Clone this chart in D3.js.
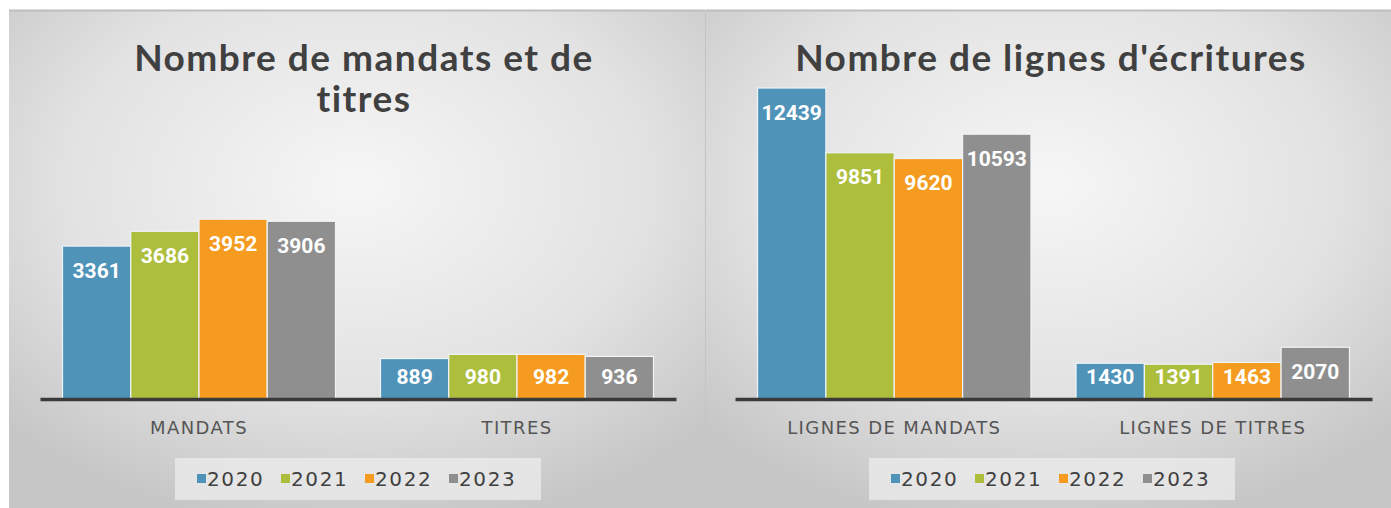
<!DOCTYPE html>
<html>
<head>
<meta charset="utf-8">
<script src="https://cdn.jsdelivr.net/npm/d3@7"></script>
<style>
  body { margin: 0; background: #fff; }
  svg { display: block; }
</style>
</head>
<body>
<div id="chart"></div>
<script>
// data
var years = ["2020", "2021", "2022", "2023"]
var colors = ["#4f93b9", "#adbe3c", "#f49b20", "#8f8f8f"]

var catsMandats = ["MANDATS", "TITRES"]
var valsMandats = [[3361, 3686, 3952, 3906], [889, 980, 982, 936]]

var catsLignes = ["LIGNES DE MANDATS", "LIGNES DE TITRES"]
var valsLignes = [[12439, 9851, 9620, 10593], [1430, 1391, 1463, 2070]]

var W = 1391, H = 508, base = 399

var svg = d3.select("#chart")
  .append("svg")
  .attr("width", W)
  .attr("height", H)

var defs = svg.append("defs")
var grad = defs.append("radialGradient")
  .attr("id", "bg")
  .attr("cx", "50%").attr("cy", "35%").attr("r", "70%")
grad.append("stop").attr("offset", "0%").attr("stop-color", "#f6f6f6")
grad.append("stop").attr("offset", "60%").attr("stop-color", "#e2e2e2")
grad.append("stop").attr("offset", "100%").attr("stop-color", "#c6c6c6")

var drawPanel = (opt) => {
  var g = svg.append("g")

  g.append("rect")
    .attr("x", opt.x0).attr("y", 10)
    .attr("width", opt.x1 - opt.x0).attr("height", H - 10)
    .attr("fill", "url(#bg)")
  g.append("line")
    .attr("x1", opt.x0).attr("x2", opt.x1)
    .attr("y1", 10.5).attr("y2", 10.5)
    .attr("stroke", "#bdbdbd").attr("stroke-width", 2)

  // title
  var title = g.append("text")
    .attr("text-anchor", "middle")
    .attr("font-family", "Lato, sans-serif")
    .attr("font-weight", 700)
    .attr("font-size", 37)
    .attr("letter-spacing", 1.5)
    .attr("fill", "#404040")
  opt.title.forEach((t, i) => {
    title.append("tspan")
      .attr("x", opt.titleX)
      .attr("y", 71 + i * 41)
      .text(t)
  })

  var x = d3.scaleBand()
    .domain(opt.cats)
    .range([opt.ax0, opt.ax1])
    .paddingInner(0.1415)
    .paddingOuter(0.0708)

  var xs = d3.scaleBand()
    .domain(years)
    .range([0, x.bandwidth()])

  var y = d3.scaleLinear()
    .domain([0, opt.max])
    .range([base, opt.top])

  var groups = g.selectAll("g.cat")
    .data(opt.vals)
    .enter()
    .append("g")
    .attr("class", "cat")
    .attr("transform", (d, i) => "translate(" + x(opt.cats[i]) + ",0)")

  groups.selectAll("rect")
    .data((d) => d.map((v, j) => ({ v: v, year: years[j], c: colors[j] })))
    .enter()
    .append("rect")
    .attr("x", (d) => xs(d.year))
    .attr("y", (d) => y(d.v))
    .attr("width", xs.bandwidth())
    .attr("height", (d) => base - y(d.v))
    .attr("fill", (d) => d.c)
    .attr("stroke", "#eef4f8")
    .attr("stroke-width", 1.2)

  groups.selectAll("text")
    .data((d) => d.map((v, j) => ({ v: v, year: years[j] })))
    .enter()
    .append("text")
    .attr("x", (d) => xs(d.year) + xs.bandwidth() / 2)
    .attr("y", (d) => Math.min(y(d.v) + 24, base - 23))
    .attr("dy", "0.36em")
    .attr("text-anchor", "middle")
    .attr("font-family", "Roboto, sans-serif")
    .attr("font-weight", 700)
    .attr("font-size", 21)
    .attr("fill", "#ffffff")
    .text((d) => d.v)

  // category axis
  var axis = g.append("g")
    .attr("transform", "translate(0," + base + ")")
    .call(d3.axisBottom(x).tickSize(0).tickSizeOuter(0).tickPadding(22))
  axis.select(".domain")
    .attr("stroke", "#3a3a3a")
    .attr("stroke-width", 3.5)
  axis.selectAll("text")
    .attr("font-family", "DejaVu Sans, sans-serif")
    .attr("font-size", 18)
    .attr("letter-spacing", 1.4)
    .attr("fill", "#555555")

  // legend
  var lg = g.append("g")
  lg.append("rect")
    .attr("x", opt.legX).attr("y", 458)
    .attr("width", 366).attr("height", 42)
    .attr("fill", "#ececec").attr("opacity", 0.75)
  var item = lg.selectAll("g.item")
    .data(years)
    .enter()
    .append("g")
    .attr("class", "item")
    .attr("transform", (d, i) => "translate(" + (opt.legX + 22 + i * 84) + ",479)")
  item.append("rect")
    .attr("x", 0).attr("y", -5)
    .attr("width", 9).attr("height", 9)
    .attr("fill", (d, i) => colors[i])
  item.append("text")
    .attr("x", 10)
    .attr("dy", "0.36em")
    .attr("font-family", "DejaVu Sans, sans-serif")
    .attr("font-size", 20)
    .attr("letter-spacing", 1.6)
    .attr("fill", "#404040")
    .text((d) => d)
}

drawPanel({
  x0: 9, x1: 705,
  title: ["Nombre de mandats et de", "titres"], titleX: 364,
  cats: catsMandats, vals: valsMandats,
  ax0: 40, ax1: 676, max: 6000, top: 126,
  legX: 175
})

drawPanel({
  x0: 706, x1: W,
  title: ["Nombre de lignes d'écritures"], titleX: 1051,
  cats: catsLignes, vals: valsLignes,
  ax0: 735, ax1: 1372, max: 14000, top: 49,
  legX: 869
})

svg.append("line")
  .attr("x1", 705.5).attr("x2", 705.5)
  .attr("y1", 10).attr("y2", H)
  .attr("stroke", "#c4c4c4").attr("stroke-width", 1)
</script>
</body>
</html>
